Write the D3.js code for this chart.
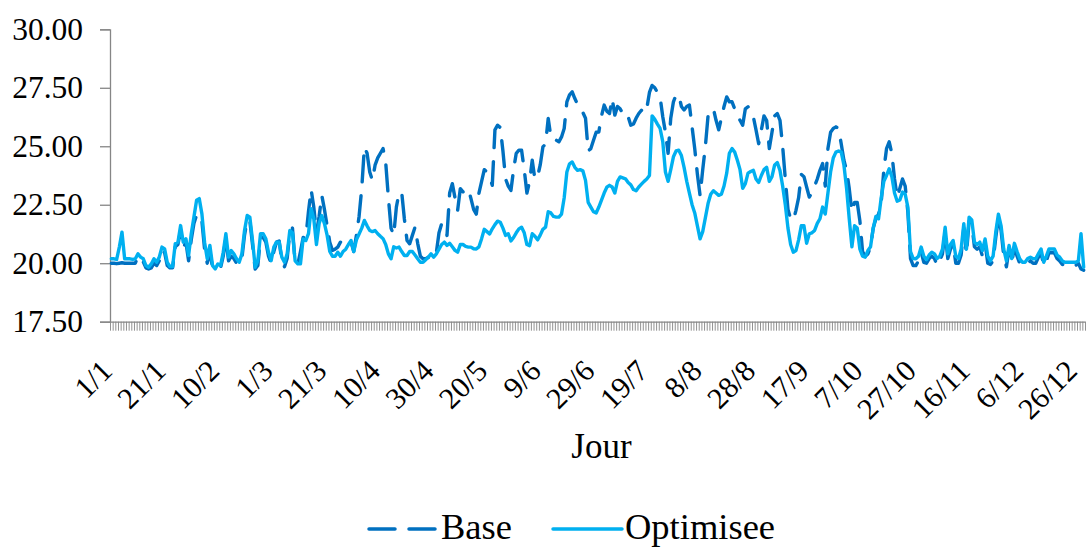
<!DOCTYPE html>
<html><head><meta charset="utf-8">
<script src="https://cdn.jsdelivr.net/npm/d3@7"></script>
<style>
body{margin:0;background:#fff;}
svg{display:block;}
text{font-family:"Liberation Serif","Times New Roman",serif;fill:#000;}
</style>
</head><body><svg id="c" width="1086" height="547"></svg>
<script>
const yTicks = [17.5, 20, 22.5, 25, 27.5, 30];
const tickLabels = ["1/1","21/1","10/2","1/3","21/3","10/4","30/4","20/5","9/6","29/6","19/7","8/8","28/8","17/9","7/10","27/10","16/11","6/12","26/12"];
const seriesNames = ["Base", "Optimisee"];
const axisTitle = "Jour";
const categories = d3.timeDays(new Date(2016,0,1), new Date(2017,0,1)).map(d3.timeFormat("%-d/%-m"));

const base = [
20.00,20.00,19.98,20.00,20.02,20.00,20.00,20.00,20.00,20.00,
20.30,20.15,20.05,19.80,19.75,19.80,20.00,19.90,20.10,20.55,
20.45,19.90,19.80,19.80,20.70,20.80,21.40,20.65,20.90,20.10,
21.00,21.70,22.05,22.10,21.80,20.60,20.00,20.50,19.80,19.75,
19.80,19.80,20.30,21.10,20.10,20.30,20.20,20.00,19.95,20.20,
21.20,21.85,21.80,20.80,19.75,19.90,21.10,21.10,20.90,20.30,
20.00,20.50,20.90,20.95,20.10,19.85,20.20,21.30,21.50,20.00,
19.95,20.50,21.10,21.10,22.20,23.15,22.40,21.30,22.00,22.90,
22.30,21.60,20.90,20.55,20.60,20.69,20.90,20.83,21.00,21.00,
20.90,20.50,21.20,22.00,23.20,24.97,24.70,23.90,23.54,24.19,
24.50,24.70,24.90,24.30,22.80,21.50,21.19,22.40,23.00,23.04,
21.90,20.97,20.83,21.19,21.54,20.85,20.30,20.19,20.19,20.25,
20.47,20.40,20.45,21.30,21.69,21.54,21.19,23.00,23.40,22.80,
22.26,23.19,23.05,23.10,23.19,22.76,22.30,22.10,23.00,23.50,
24.00,23.90,23.70,23.33,25.70,25.90,25.80,24.80,23.60,23.30,
23.11,24.00,24.70,24.83,24.83,24.00,23.00,23.50,24.40,23.60,
23.70,24.20,24.97,25.10,26.19,25.40,25.26,25.26,25.19,25.40,
25.76,26.90,27.20,27.33,27.04,26.80,26.54,26.45,26.20,24.80,
24.90,25.26,25.60,25.61,26.30,26.76,26.50,26.40,27.04,26.33,
26.70,26.60,26.40,26.19,26.26,25.90,25.95,26.20,26.40,26.54,
26.40,26.61,27.30,27.60,27.50,27.30,27.11,26.26,25.60,24.70,
26.20,26.90,27.19,27.19,26.70,26.55,26.70,26.76,25.83,24.90,
23.80,22.90,24.00,25.00,26.30,26.50,26.61,26.11,25.70,26.20,
26.70,27.11,26.90,26.90,26.60,26.30,26.11,25.90,26.60,26.69,
26.50,26.26,25.70,25.11,25.69,26.30,26.10,24.90,25.60,26.30,
26.40,26.11,25.00,23.60,22.30,21.90,21.83,22.26,22.80,23.80,
23.70,23.26,22.83,23.00,23.30,23.60,23.97,24.26,23.30,24.90,
25.60,25.76,25.83,25.75,25.10,24.40,23.97,23.19,22.20,22.60,
22.60,21.80,20.50,20.30,20.40,20.69,21.50,21.90,22.10,22.60,
24.00,24.90,25.19,24.69,23.60,22.83,23.20,23.60,23.30,22.20,
20.20,19.90,19.90,20.10,20.47,20.04,20.00,20.20,20.30,20.20,
19.90,20.10,20.40,21.35,20.20,20.60,20.80,20.00,20.00,20.35,
21.50,20.40,21.80,21.65,20.70,20.60,20.70,20.30,20.85,20.00,
19.95,20.10,21.10,21.95,21.40,20.30,19.85,20.60,20.00,20.70,
20.30,20.00,19.90,19.90,20.00,20.10,20.00,20.00,20.25,20.45,
19.90,20.10,20.45,20.45,20.45,20.20,20.10,19.95,19.90,19.90,
19.90,19.90,19.90,20.00,19.75,19.70
];

const optimisee = [
20.19,20.19,20.16,20.69,21.33,20.19,20.19,20.19,20.16,20.19,
20.40,20.26,20.19,19.90,19.83,19.97,20.19,20.04,20.26,20.69,
20.61,20.04,19.86,19.86,20.83,20.90,21.61,20.90,21.04,20.33,
21.26,21.97,22.69,22.76,22.11,20.90,20.19,20.76,19.90,19.76,
19.97,19.90,20.47,21.26,20.26,20.54,20.40,20.19,20.04,20.40,
21.40,22.04,21.97,20.97,19.83,20.11,21.26,21.26,21.04,20.47,
20.11,20.69,20.90,20.90,20.26,20.04,20.40,21.40,21.30,20.10,
19.97,19.97,21.04,20.97,21.26,22.33,21.90,20.80,21.70,22.04,
21.69,21.20,20.50,20.30,20.30,20.47,20.30,20.50,20.60,20.80,
20.97,20.50,21.00,21.25,21.50,21.83,21.60,21.40,21.35,21.40,
21.26,21.15,21.05,20.80,20.40,20.19,20.70,20.65,20.69,20.50,
20.33,20.33,20.50,20.50,20.35,20.19,20.04,20.04,20.15,20.26,
20.40,20.26,20.40,20.60,20.80,20.90,20.76,20.85,20.70,20.55,
20.47,20.80,20.80,20.72,20.69,20.69,20.62,20.61,20.70,21.05,
21.45,21.35,21.25,21.47,21.65,21.80,21.75,21.50,21.19,21.26,
20.95,21.10,21.30,21.47,21.54,21.30,20.80,20.75,21.26,21.15,
21.00,21.20,21.45,21.54,22.20,22.15,22.00,21.97,21.97,22.10,
22.80,23.90,24.25,24.33,24.10,23.97,24.00,23.95,23.54,22.60,
22.40,22.20,22.15,22.40,22.70,23.00,23.25,23.33,23.26,23.00,
23.50,23.69,23.65,23.61,23.45,23.35,23.15,23.10,23.26,23.38,
23.50,23.60,23.75,26.30,26.15,25.95,25.76,25.20,23.90,23.50,
24.00,24.55,24.80,24.83,24.60,24.10,23.50,23.00,22.50,22.15,
21.60,21.04,21.35,21.95,22.55,22.95,23.10,23.00,22.90,22.95,
23.30,23.85,24.70,24.90,24.75,24.40,24.00,23.20,23.40,23.85,
23.92,23.97,23.60,23.45,23.75,24.00,24.10,23.50,23.70,24.20,
24.30,23.97,23.30,22.50,21.50,20.80,20.47,20.54,21.00,21.60,
21.60,20.85,21.26,21.30,21.40,21.70,21.90,22.40,22.10,23.00,
23.90,24.50,24.75,24.80,24.75,24.20,23.20,21.90,20.70,21.60,
21.50,20.60,20.30,20.26,20.54,20.70,21.50,22.00,21.90,22.80,
23.50,23.75,24.04,23.70,23.00,22.65,22.70,23.04,22.95,22.40,
20.50,20.20,20.19,20.30,20.69,20.30,20.15,20.35,20.47,20.40,
20.20,20.30,20.60,21.54,20.40,20.80,20.97,20.30,20.20,20.60,
21.69,20.60,21.97,21.85,20.90,20.80,20.90,20.54,21.04,20.30,
20.10,20.30,21.33,22.10,21.60,20.60,20.10,20.76,20.20,20.85,
20.50,20.19,20.04,20.04,20.20,20.26,20.19,20.19,20.40,20.61,
20.04,20.30,20.61,20.61,20.61,20.35,20.26,20.10,20.04,20.04,
20.04,20.04,20.04,20.10,21.26,19.83
];

const colors = {Base: "#0070C0", Optimisee: "#00B0F0"};

const svg = d3.select("#c");
const pLeft = 110, pRight = 1085, pTop = 29.3, pBottom = 321.7;

const x = d3.scaleBand().domain(categories).range([pLeft, pRight]).padding(0);
const xLab = d3.scaleBand().domain(categories).range([pLeft, pRight + 6]).padding(0);
const xb = d3.scaleLinear().domain([0, categories.length]).range([pLeft, pRight]);
const y = d3.scaleLinear().domain([17.5, 30]).range([pBottom, pTop]);
const axisColor = "#868686";

// Y axis
const gy = svg.append("g").attr("transform", `translate(${pLeft},0)`)
  .call(d3.axisLeft(y).tickValues(yTicks).tickFormat(d3.format(".2f")).tickSize(10).tickPadding(17));
gy.select(".domain").attr("stroke", axisColor).attr("stroke-width", 1.3);
gy.selectAll(".tick line").attr("stroke", axisColor).attr("stroke-width", 1.3);
gy.selectAll(".tick text").attr("font-size", 31.5).attr("font-family", '"Liberation Serif",serif').attr("fill", "#000");

// X axis (tick marks between categories)
const gx = svg.append("g").attr("transform", `translate(0,${pBottom})`)
  .call(d3.axisBottom(xb).tickValues(d3.range(categories.length + 1)).tickFormat("").tickSize(9).tickSizeOuter(0));
gx.select(".domain").attr("stroke", axisColor).attr("stroke-width", 1.3);
gx.selectAll(".tick line").attr("stroke", axisColor).attr("stroke-width", 0.9);

// X tick labels
svg.append("g").selectAll("text").data(tickLabels).join("text")
  .attr("transform", d => `translate(${xLab(d) + xLab.bandwidth()/2 + 2.5},${pBottom + 51}) rotate(-45)`)
  .attr("text-anchor", "end")
  .attr("font-size", 30)
  .text(d => d);

// Axis title
svg.append("text").attr("x", (pLeft + pRight) / 2 + 4).attr("y", 458)
  .attr("text-anchor", "middle").attr("font-size", 35).text(axisTitle);

// Lines
const line = d3.line().x((d, i) => x(categories[i]) + x.bandwidth()/2).y(d => y(d));
svg.append("path").datum(base).attr("d", line)
  .attr("fill", "none").attr("stroke", colors.Base).attr("stroke-width", 3.4)
  .attr("stroke-dasharray", "26 14").attr("stroke-linecap", "round").attr("stroke-linejoin", "round");
svg.append("path").datum(optimisee).attr("d", line)
  .attr("fill", "none").attr("stroke", colors.Optimisee).attr("stroke-width", 3.4)
  .attr("stroke-linejoin", "round").attr("stroke-linecap", "round");

// Legend
const legendY = 529;
const leg = [
  {name: seriesNames[0], x1: 369, x2: 438, dash: "26 14", tx: 441},
  {name: seriesNames[1], x1: 553, x2: 622, dash: null, tx: 625}
];
leg.forEach(l => {
  svg.append("line").attr("x1", l.x1).attr("x2", l.x2).attr("y1", legendY).attr("y2", legendY)
    .attr("stroke", colors[l.name]).attr("stroke-width", 3.5).attr("stroke-linecap", "round")
    .attr("stroke-dasharray", l.dash);
  svg.append("text").attr("x", l.tx).attr("y", 539).attr("font-size", 36.5).text(l.name);
});
</script>
</body></html>
